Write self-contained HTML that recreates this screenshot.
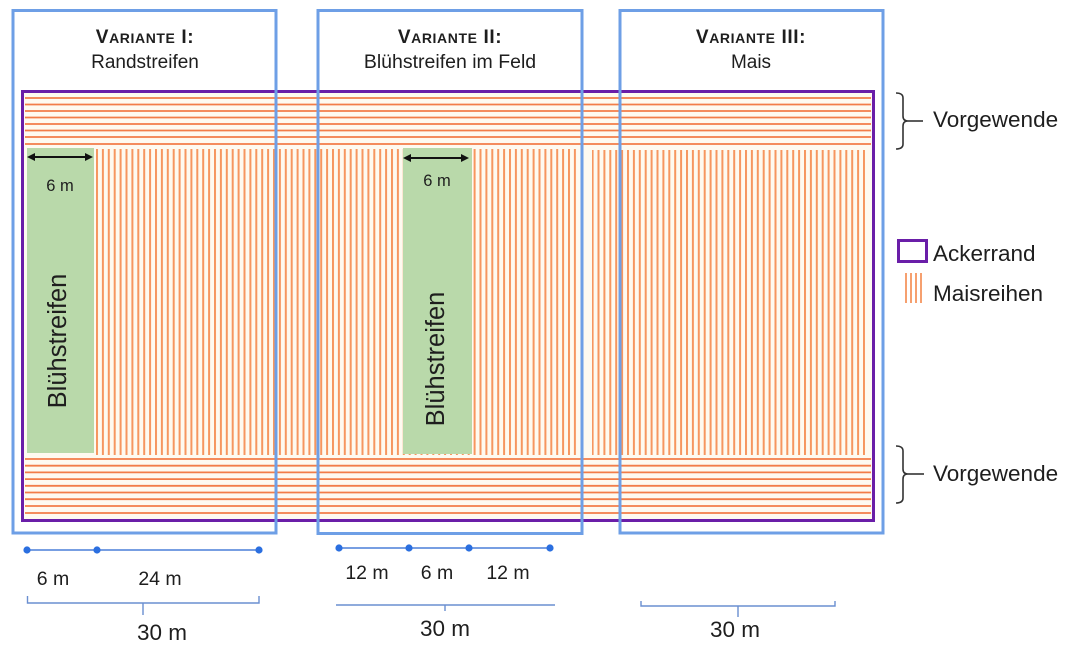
<!DOCTYPE html>
<html>
<head>
<meta charset="utf-8">
<style>
html,body{margin:0;padding:0;background:#ffffff;}
svg{display:block;}
text{font-family:"Liberation Sans",Arial,sans-serif;fill:#1e1e1e;}
</style>
</head>
<body>
<svg width="1079" height="654" viewBox="0 0 1079 654" xmlns="http://www.w3.org/2000/svg">
  <defs>
    <pattern id="vs" patternUnits="userSpaceOnUse" x="96" y="0" width="5.9" height="10">
      <rect x="0" y="0" width="2" height="10" fill="#f6965f"/>
    </pattern>
  </defs>

  <rect x="0" y="0" width="1079" height="654" fill="#ffffff"/>

  <!-- field interior -->
  <rect x="23" y="92" width="850" height="428" fill="#fefaf0"/>

  <!-- top headland lines -->
  <g stroke="#f27d48" stroke-width="1.8">
    <line x1="25" y1="98" x2="871" y2="98"/>
    <line x1="25" y1="104.5" x2="871" y2="104.5"/>
    <line x1="25" y1="111" x2="871" y2="111"/>
    <line x1="25" y1="117.5" x2="871" y2="117.5"/>
    <line x1="25" y1="124" x2="871" y2="124"/>
    <line x1="25" y1="130.5" x2="871" y2="130.5"/>
    <line x1="25" y1="137" x2="871" y2="137"/>
    <line x1="25" y1="144" x2="871" y2="144"/>
  </g>
  <!-- bottom headland lines -->
  <g stroke="#f27d48" stroke-width="1.8">
    <line x1="25" y1="459" x2="871" y2="459"/>
    <line x1="25" y1="465.7" x2="871" y2="465.7"/>
    <line x1="25" y1="472.4" x2="871" y2="472.4"/>
    <line x1="25" y1="479.1" x2="871" y2="479.1"/>
    <line x1="25" y1="485.8" x2="871" y2="485.8"/>
    <line x1="25" y1="492.5" x2="871" y2="492.5"/>
    <line x1="25" y1="499.2" x2="871" y2="499.2"/>
    <line x1="25" y1="506" x2="871" y2="506"/>
    <line x1="25" y1="513" x2="871" y2="513"/>
  </g>

  <!-- vertical maize rows -->
  <rect x="96" y="149" width="481" height="306" fill="url(#vs)"/>
  <rect x="592" y="150" width="273" height="305" fill="url(#vs)"/>

  <!-- green strips -->
  <rect x="27" y="148" width="67" height="305" fill="#b9d9aa"/>
  <rect x="403" y="148" width="69" height="306" fill="#b9d9aa"/>

  <!-- purple Ackerrand -->
  <rect x="22.5" y="91.5" width="851" height="429" fill="none" stroke="#6a1ea8" stroke-width="3"/>

  <!-- blue variant boxes -->
  <g fill="none" stroke="#6e9fe6" stroke-width="3">
    <rect x="13" y="10.5" width="263" height="522.5"/>
    <rect x="318" y="10.5" width="264" height="523"/>
    <rect x="620" y="10.5" width="263" height="522.5"/>
  </g>

  <!-- headers -->
  <text x="145" y="43" text-anchor="middle" font-weight="bold" font-size="19" letter-spacing="0.6">V<tspan font-size="14">ARIANTE</tspan> I:</text>
  <text x="145" y="68" text-anchor="middle" font-size="19">Randstreifen</text>
  <text x="450" y="43" text-anchor="middle" font-weight="bold" font-size="19" letter-spacing="0.6">V<tspan font-size="14">ARIANTE</tspan> II:</text>
  <text x="450" y="68" text-anchor="middle" font-size="19.5">Blühstreifen im Feld</text>
  <text x="751" y="43" text-anchor="middle" font-weight="bold" font-size="19" letter-spacing="0.6">V<tspan font-size="14">ARIANTE</tspan> III:</text>
  <text x="751" y="68" text-anchor="middle" font-size="19">Mais</text>

  <!-- 6 m arrows -->
  <g stroke="#111" stroke-width="2" fill="none">
    <line x1="31" y1="157" x2="89" y2="157"/>
    <line x1="407" y1="158" x2="465" y2="158"/>
  </g>
  <g fill="#111">
    <polygon points="27,157 35,153 35,161"/>
    <polygon points="93,157 85,153 85,161"/>
    <polygon points="403,158 411,154 411,162"/>
    <polygon points="469,158 461,154 461,162"/>
  </g>
  <text x="60" y="191" text-anchor="middle" font-size="16.5">6 m</text>
  <text x="437" y="186" text-anchor="middle" font-size="16.5">6 m</text>

  <!-- Blühstreifen rotated -->
  <text transform="translate(66,341) rotate(-90)" text-anchor="middle" font-size="25.5">Blühstreifen</text>
  <text transform="translate(444,359) rotate(-90)" text-anchor="middle" font-size="25.5">Blühstreifen</text>

  <!-- Vorgewende braces -->
  <g stroke="#333" stroke-width="1.6" fill="none">
    <path d="M896,93 Q903,93 903,98 L903,116 Q903,121 908,121 Q903,121 903,126 L903,144 Q903,149 896,149"/>
    <line x1="908" y1="121" x2="923" y2="121"/>
    <path d="M896,446 Q903,446 903,451 L903,469 Q903,474 908,474 Q903,474 903,479 L903,498 Q903,503 896,503"/>
    <line x1="908" y1="474" x2="924" y2="474"/>
  </g>
  <text x="933" y="127" font-size="22.5">Vorgewende</text>
  <text x="933" y="481" font-size="22.5">Vorgewende</text>

  <!-- legend -->
  <rect x="898.5" y="240.5" width="28" height="21" fill="none" stroke="#6a1ea8" stroke-width="3"/>
  <text x="933" y="261" font-size="22.5">Ackerrand</text>
  <g stroke="#f6965f" stroke-width="1.8">
    <line x1="906" y1="273" x2="906" y2="303"/>
    <line x1="911" y1="273" x2="911" y2="303"/>
    <line x1="916" y1="273" x2="916" y2="303"/>
    <line x1="921" y1="273" x2="921" y2="303"/>
  </g>
  <text x="933" y="301" font-size="22.5">Maisreihen</text>

  <!-- scale 1 -->
  <line x1="27" y1="550" x2="259" y2="550" stroke="#4a7fd8" stroke-width="1.5"/>
  <g fill="#2b6fe0">
    <circle cx="27" cy="550" r="3.6"/>
    <circle cx="97" cy="550" r="3.6"/>
    <circle cx="259" cy="550" r="3.6"/>
  </g>
  <text x="53" y="585" text-anchor="middle" font-size="19.5">6 m</text>
  <text x="160" y="585" text-anchor="middle" font-size="19.5">24 m</text>
  <path d="M27.5,596 L27.5,603 L259,603 L259,596 M143,603 L143,615" stroke="#6a8fd0" stroke-width="1.4" fill="none"/>
  <text x="162" y="640" text-anchor="middle" font-size="22.5">30 m</text>

  <!-- scale 2 -->
  <line x1="339" y1="548" x2="550" y2="548" stroke="#4a7fd8" stroke-width="1.5"/>
  <g fill="#2b6fe0">
    <circle cx="339" cy="548" r="3.6"/>
    <circle cx="409" cy="548" r="3.6"/>
    <circle cx="469" cy="548" r="3.6"/>
    <circle cx="550" cy="548" r="3.6"/>
  </g>
  <text x="367" y="579" text-anchor="middle" font-size="19.5">12 m</text>
  <text x="437" y="579" text-anchor="middle" font-size="19.5">6 m</text>
  <text x="508" y="579" text-anchor="middle" font-size="19.5">12 m</text>
  <path d="M336,605 L555,605 M445,605 L445,611" stroke="#6a8fd0" stroke-width="1.4" fill="none"/>
  <text x="445" y="636" text-anchor="middle" font-size="22.5">30 m</text>

  <!-- scale 3 -->
  <path d="M641,601 L641,606 L835,606 L835,601 M738,606 L738,617" stroke="#6a8fd0" stroke-width="1.4" fill="none"/>
  <text x="735" y="637" text-anchor="middle" font-size="22.5">30 m</text>
</svg>
</body>
</html>
